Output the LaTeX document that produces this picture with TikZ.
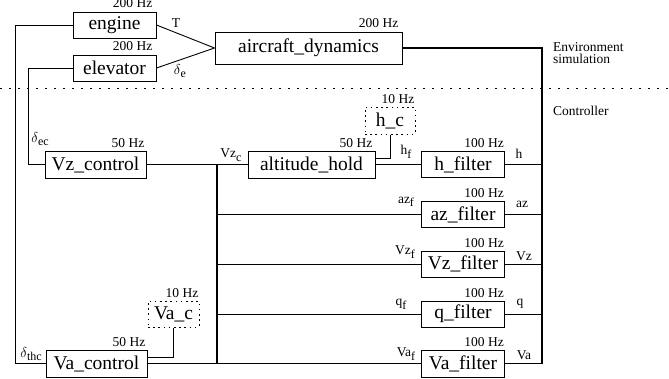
\documentclass[tikz,border=0pt]{standalone}
\usepackage{fontspec}
\setmainfont{Liberation Serif}
\newcommand{\sbs}[1]{\raisebox{-3.5pt}{\fontsize{12}{13}\selectfont #1}}
\begin{document}
\begin{tikzpicture}[x=1pt,y=-1pt,
  blk/.style={draw, line width=1pt, inner sep=0pt, font=\fontsize{19.5}{22}\selectfont},
  fblk/.style={blk, minimum width=83pt, minimum height=26pt},
  cblk/.style={blk, minimum width=101pt, minimum height=27pt},
  dotblk/.style={blk, dash pattern=on 1.6pt off 3.6pt},
  lbl/.style={font=\fontsize{13.5}{15}\selectfont, inner sep=0pt},
  freq/.style={lbl, anchor=base east},
  wire/.style={line width=0.9pt},
  bus/.style={line width=1.8pt},
  mbus/.style={line width=1.3pt}]
\useasboundingbox (0,0) rectangle (669,378);

% boxes
\node[blk, minimum width=83pt, minimum height=26pt] (engine) at (114.5,25) {engine};
\node[blk, minimum width=83pt, minimum height=26pt] (elev) at (114.5,68) {elevator};
\node[blk, minimum width=187pt, minimum height=32pt] (ad) at (308.5,48) {aircraft\_dynamics};
\node[cblk] (vzctl) at (95.5,164.5) {Vz\_control};
\node[blk, minimum width=127pt, minimum height=27pt] (alt) at (311.5,164.5) {altitude\_hold};
\node[dotblk, minimum width=50pt, minimum height=27pt] (hc) at (390,120.5) {h\_c};
\node[fblk] (hf) at (463,164.5) {h\_filter};
\node[fblk] (azf) at (463,214.5) {az\_filter};
\node[fblk] (vzf) at (463,264) {Vz\_filter};
\node[fblk] (qf) at (463,314) {q\_filter};
\node[fblk, minimum height=27pt] (vaf) at (463,363.5) {Va\_filter};
\node[dotblk, minimum width=51pt, minimum height=26pt] (vac) at (173.5,314) {Va\_c};
\node[cblk] (vactl) at (96.5,363.5) {Va\_control};

% frequencies
\node[freq] (f1) at ([xshift=-4pt,yshift=4pt]engine.north east) {200 Hz};
\node[freq] (f2) at ([xshift=-4pt,yshift=4pt]elev.north east) {200 Hz};
\node[freq] (f3) at ([xshift=-4pt,yshift=4pt]ad.north east) {200 Hz};
\node[freq] (f4) at ([xshift=-2pt,yshift=3.5pt]vzctl.north east) {50 Hz};
\node[freq] (f5) at ([xshift=-3pt,yshift=3.5pt]alt.north east) {50 Hz};
\node[freq] (f6) at ([xshift=-1pt,yshift=3.5pt]hc.north east) {10 Hz};
\node[freq] (f7) at ([xshift=-1pt,yshift=3.5pt]hf.north east) {100 Hz};
\node[freq] (f8) at ([xshift=-1pt,yshift=3.5pt]azf.north east) {100 Hz};
\node[freq] (f9) at ([xshift=-1pt,yshift=3.5pt]vzf.north east) {100 Hz};
\node[freq] (f10) at ([xshift=-1pt,yshift=3.5pt]qf.north east) {100 Hz};
\node[freq] (f11) at ([xshift=-1pt,yshift=3.5pt]vaf.north east) {100 Hz};
\node[freq] (f12) at ([xshift=-1pt,yshift=3.5pt]vac.north east) {10 Hz};
\node[freq] (f13) at ([xshift=-2pt,yshift=3.5pt]vactl.north east) {50 Hz};

% separator and section labels
\coordinate (sepL) at (0,88.5);
\coordinate (sepR) at (669,88.5);
\draw[line width=1pt, dash pattern=on 1.5pt off 7.5pt] (sepL) -- (sepR);
\node[lbl, anchor=base west] (env1) at (553,51) {Environment};
\node[lbl, anchor=base west] (env2) at (553,63) {simulation};
\node[lbl, anchor=base west] (ctl) at (553,115) {Controller};

% signal labels
\node[lbl] (lT) at (176,23) {T};
\node[lbl] (lde) at (180,71) {$\delta$\sbs{e}};
\node[lbl] (ldec) at (40,139) {$\delta$\sbs{ec}};
\node[lbl] (ldthc) at (31,354) {$\delta$\sbs{thc}};
\node[lbl] (lvzc) at (231,155) {Vz\sbs{c}};
\node[lbl] (lhf) at (406,152) {h\sbs{f}};
\node[lbl] (lh) at (519,154) {h};
\node[lbl] (lazf) at (406,202) {az\sbs{f}};
\node[lbl] (laz) at (522,204) {az};
\node[lbl] (lvzf) at (405,252) {Vz\sbs{f}};
\node[lbl] (lvz) at (524,256) {Vz};
\node[lbl] (lqf) at (401,304) {q\sbs{f}};
\node[lbl] (lq) at (520,304) {q};
\node[lbl] (lvaf) at (406,354) {Va\sbs{f}};
\node[lbl] (lva) at (524,355) {Va};

% connectors
\draw[wire] (engine.east) -- (ad.west);
\draw[wire] (elev.east) -- (ad.west);
\coordinate (rb) at (542,363.5);
\draw[bus] (ad.east) -| (rb);
\draw[wire] (hf.east) -- (hf.east -| rb);
\draw[wire] (azf.east) -- (azf.east -| rb);
\draw[wire] (vzf.east) -- (vzf.east -| rb);
\draw[wire] (qf.east) -- (qf.east -| rb);
\draw[wire] (vaf.east) -- (rb);

\draw[wire] (engine.west) -- ++(-57,0) |- (vactl.west);
\draw[wire] (elev.west) -- ++(-44,0) |- (vzctl.west);

\draw[wire] (vzctl.east) -- (alt.west);
\draw[wire] (alt.east) -- (hf.west);
\draw[wire] (hc.south) |- ([yshift=6.5pt]alt.east);
\draw[wire] (vac.south) |- ([yshift=6.5pt]vactl.east);
\draw[wire] (vactl.east) -- (vaf.west);

\coordinate (lbtop) at (217,164.5);
\coordinate (lbbot) at (217,363.5);
\draw[mbus] (lbtop) -- (lbbot);
\draw[wire] (azf.west) -- (azf.west -| lbtop);
\draw[wire] (vzf.west) -- (vzf.west -| lbtop);
\draw[wire] (qf.west) -- (qf.west -| lbtop);
\end{tikzpicture}
\end{document}
